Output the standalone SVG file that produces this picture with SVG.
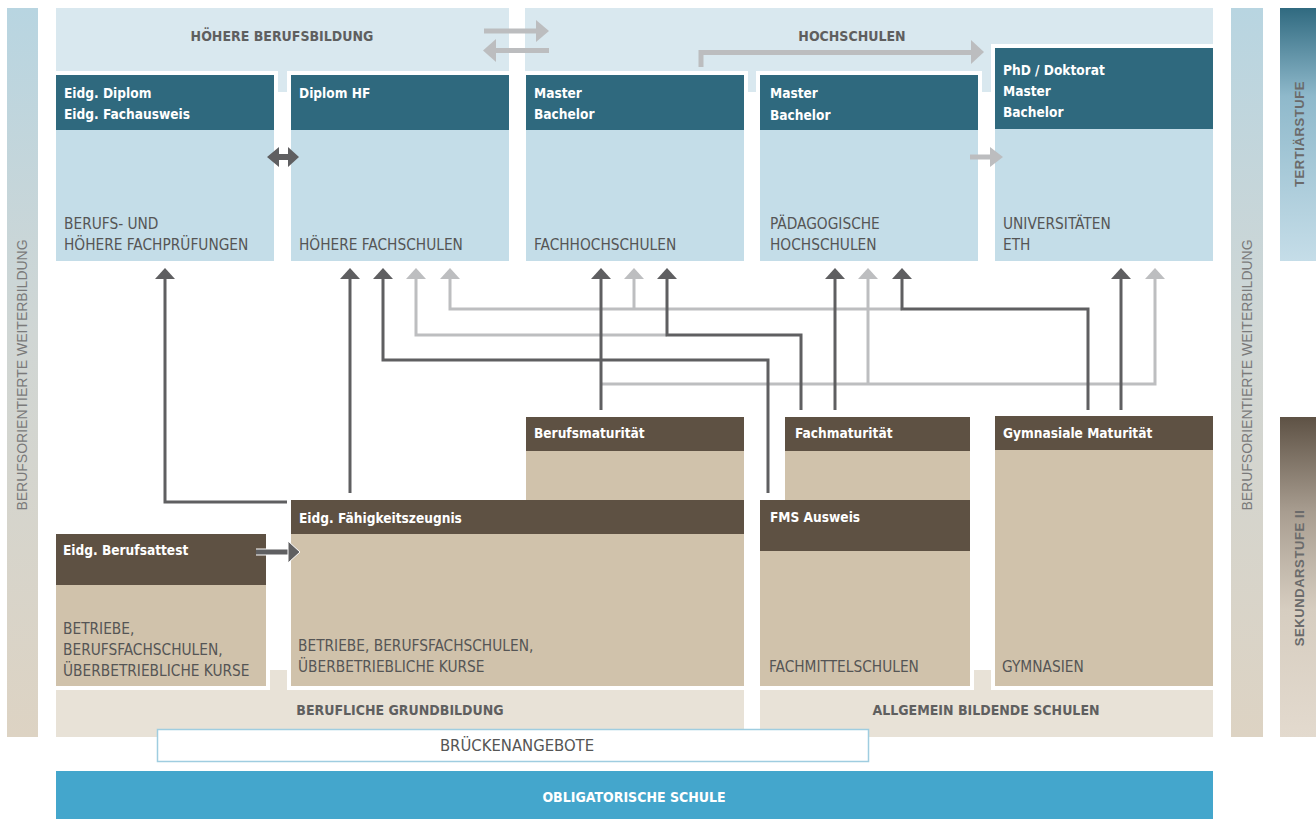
<svg xmlns="http://www.w3.org/2000/svg" width="1316" height="819" viewBox="0 0 1316 819">
<defs>
<style>
.hd{font-family:"Liberation Sans Narrow","DejaVu Sans Condensed","Liberation Sans",sans-serif;font-weight:bold;font-size:13.6px;fill:#ffffff}
.lb{font-family:"Liberation Sans Narrow","DejaVu Sans Condensed","Liberation Sans",sans-serif;font-size:15.3px;fill:#555555}
.tt{font-family:"Liberation Sans Narrow","DejaVu Sans Condensed","Liberation Sans",sans-serif;font-weight:bold;font-size:14px;fill:#5f5f5f;text-anchor:middle}
.side{font-family:"Liberation Sans",sans-serif;font-size:14px;fill:#7a7a7a;text-anchor:middle}
.stage{font-family:"Liberation Sans",sans-serif;font-weight:bold;font-size:13px;fill:#6b6b6b;text-anchor:middle;letter-spacing:0.6px}
.tHead{fill:#2f697e}
.tBody{fill:#c4dde8}
.sHead{fill:#5e5143}
.sBody{fill:#d0c2ab}
.halo{fill:#ffffff}
.cd{fill:none;stroke:#5f5f61;stroke-width:3}
.cl{fill:none;stroke:#bdbec0;stroke-width:3}
</style>
<linearGradient id="gSide" x1="0" y1="0" x2="0" y2="1">
<stop offset="0" stop-color="#b8d5e1"/>
<stop offset="0.45" stop-color="#d0d6d4"/>
<stop offset="1" stop-color="#ddd3c3"/>
</linearGradient>
<linearGradient id="gTert" x1="0" y1="0" x2="0" y2="1">
<stop offset="0" stop-color="#306a80"/>
<stop offset="0.35" stop-color="#8fb9cb"/>
<stop offset="1" stop-color="#c5dde8"/>
</linearGradient>
<linearGradient id="gSek" x1="0" y1="0" x2="0" y2="1">
<stop offset="0" stop-color="#5e5245"/>
<stop offset="0.3" stop-color="#a99e91"/>
<stop offset="0.6" stop-color="#d6cdc0"/>
<stop offset="1" stop-color="#e3dace"/>
</linearGradient>
<marker id="ad" viewBox="0 0 11 20" refX="0" refY="10" markerWidth="11" markerHeight="20" markerUnits="userSpaceOnUse" orient="auto">
<path d="M0,0 L11,10 L0,20 Z" fill="#5f5f61"/>
</marker>
<marker id="al" viewBox="0 0 11 20" refX="0" refY="10" markerWidth="11" markerHeight="20" markerUnits="userSpaceOnUse" orient="auto">
<path d="M0,0 L11,10 L0,20 Z" fill="#bdbec0"/>
</marker>
</defs>

<g id="background">
<rect x="7" y="8" width="31" height="729" fill="url(#gSide)"/>
<text class="side" transform="translate(27,375) rotate(-90)">BERUFSORIENTIERTE WEITERBILDUNG</text>
<rect x="1231" y="8" width="32" height="729" fill="url(#gSide)"/>
<text class="side" transform="translate(1252,375) rotate(-90)">BERUFSORIENTIERTE WEITERBILDUNG</text>
<rect x="1280" y="8" width="36" height="253" fill="url(#gTert)"/>
<text class="stage" transform="translate(1304,134) rotate(-90)">TERTIÄRSTUFE</text>
<rect x="1280" y="417" width="36" height="320" fill="url(#gSek)"/>
<text class="stage" transform="translate(1304,578) rotate(-90)">SEKUNDARSTUFE II</text>
<rect x="56" y="8" width="453" height="84" fill="#d9e8ef"/>
<rect x="525" y="8" width="688" height="84" fill="#d9e8ef"/>
<rect x="56" y="670" width="688" height="67" fill="#e8e2d7"/>
<rect x="760" y="670" width="453" height="67" fill="#e8e2d7"/>
<rect class="halo" x="52" y="71" width="226" height="194"/>
<rect class="halo" x="287" y="71" width="226" height="194"/>
<rect class="halo" x="522" y="71" width="226" height="194"/>
<rect class="halo" x="756" y="71" width="226" height="194"/>
<rect class="halo" x="991" y="44" width="226" height="221"/>
<rect class="halo" x="522" y="413" width="226" height="91"/>
<rect class="halo" x="287" y="496" width="461" height="194"/>
<rect class="halo" x="52" y="530" width="218" height="160"/>
<rect class="halo" x="781" y="413" width="193" height="91"/>
<rect class="halo" x="756" y="496" width="218" height="194"/>
<rect class="halo" x="991" y="412" width="226" height="278"/>
<text class="tt" x="282" y="41">HÖHERE BERUFSBILDUNG</text>
<text class="tt" x="852" y="41">HOCHSCHULEN</text>
<text class="tt" x="400" y="715">BERUFLICHE GRUNDBILDUNG</text>
<text class="tt" x="986" y="715">ALLGEMEIN BILDENDE SCHULEN</text>
</g>

<g id="eidg-diplom">
<rect class="tBody" x="56" y="75" width="218" height="186"/>
<rect class="tHead" x="56" y="75" width="218" height="55"/>
<text class="hd" x="64" y="98">Eidg. Diplom</text>
<text class="hd" x="64" y="119">Eidg. Fachausweis</text>
<text class="lb" x="64" y="229">BERUFS- UND</text>
<text class="lb" x="64" y="250">HÖHERE FACHPRÜFUNGEN</text>
</g>
<g id="diplom-hf">
<rect class="tBody" x="291" y="75" width="218" height="186"/>
<rect class="tHead" x="291" y="75" width="218" height="55"/>
<text class="hd" x="299" y="98">Diplom HF</text>
<text class="lb" x="299" y="250">HÖHERE FACHSCHULEN</text>
</g>
<g id="fachhochschulen">
<rect class="tBody" x="526" y="75" width="218" height="186"/>
<rect class="tHead" x="526" y="75" width="218" height="55"/>
<text class="hd" x="534" y="98">Master</text>
<text class="hd" x="534" y="119">Bachelor</text>
<text class="lb" x="534" y="250">FACHHOCHSCHULEN</text>
</g>
<g id="paedagogische-hochschulen">
<rect class="tBody" x="760" y="75" width="218" height="186"/>
<rect class="tHead" x="760" y="75" width="218" height="55"/>
<text class="hd" x="770" y="98">Master</text>
<text class="hd" x="770" y="120">Bachelor</text>
<text class="lb" x="770" y="229">PÄDAGOGISCHE</text>
<text class="lb" x="770" y="250">HOCHSCHULEN</text>
</g>
<g id="universitaeten">
<rect class="tBody" x="995" y="48" width="218" height="213"/>
<rect class="tHead" x="995" y="48" width="218" height="81"/>
<text class="hd" x="1003" y="75">PhD / Doktorat</text>
<text class="hd" x="1003" y="96">Master</text>
<text class="hd" x="1003" y="117">Bachelor</text>
<text class="lb" x="1003" y="229">UNIVERSITÄTEN</text>
<text class="lb" x="1003" y="250">ETH</text>
</g>

<g id="berufsmaturitaet">
<rect class="sBody" x="526" y="417" width="218" height="83"/>
<rect class="sHead" x="526" y="417" width="218" height="34"/>
<text class="hd" x="534" y="438">Berufsmaturität</text>
</g>
<g id="faehigkeitszeugnis">
<rect class="sBody" x="291" y="500" width="453" height="186"/>
<rect class="sHead" x="291" y="500" width="453" height="34"/>
<text class="hd" x="299" y="523">Eidg. Fähigkeitszeugnis</text>
<text class="lb" x="298" y="651">BETRIEBE, BERUFSFACHSCHULEN,</text>
<text class="lb" x="298" y="672">ÜBERBETRIEBLICHE KURSE</text>
</g>
<g id="berufsattest">
<rect class="sBody" x="56" y="534" width="210" height="152"/>
<rect class="sHead" x="56" y="534" width="210" height="51"/>
<text class="hd" x="63" y="555">Eidg. Berufsattest</text>
<text class="lb" x="63" y="634">BETRIEBE,</text>
<text class="lb" x="63" y="655">BERUFSFACHSCHULEN,</text>
<text class="lb" x="63" y="676">ÜBERBETRIEBLICHE KURSE</text>
</g>
<g id="fachmaturitaet">
<rect class="sBody" x="785" y="417" width="185" height="83"/>
<rect class="sHead" x="785" y="417" width="185" height="34"/>
<text class="hd" x="795" y="438">Fachmaturität</text>
</g>
<g id="fms-ausweis">
<rect class="sBody" x="760" y="500" width="210" height="186"/>
<rect class="sHead" x="760" y="500" width="210" height="51"/>
<text class="hd" x="770" y="522">FMS Ausweis</text>
<text class="lb" x="769" y="672">FACHMITTELSCHULEN</text>
</g>
<g id="gymnasien">
<rect class="sBody" x="995" y="416" width="218" height="270"/>
<rect class="sHead" x="995" y="416" width="218" height="34"/>
<text class="hd" x="1003" y="438">Gymnasiale Maturität</text>
<text class="lb" x="1002" y="672">GYMNASIEN</text>
</g>

<g id="brueckenangebote">
<rect x="157.5" y="729.5" width="711" height="32" fill="#ffffff" stroke="#9fcde0" stroke-width="1.5"/>
<text class="lb" x="517" y="751" text-anchor="middle" style="font-size:16.5px">BRÜCKENANGEBOTE</text>
</g>
<g id="obligatorische-schule">
<rect x="56" y="771" width="1157" height="48" fill="#44a6cc"/>
<text class="tt" x="634" y="802" style="fill:#ffffff">OBLIGATORISCHE SCHULE</text>
</g>

<g id="connectors">
<path class="cl" d="M601,384 H1155 V279" marker-end="url(#al)"/>
<path class="cl" d="M868,384 V279" marker-end="url(#al)"/>
<path class="cl" d="M667,335 H416 V279" marker-end="url(#al)"/>
<path class="cl" d="M902,309 H450 V279" marker-end="url(#al)"/>
<path class="cl" d="M634,309 V279" marker-end="url(#al)"/>
<path class="cd" d="M287,502 H165 V279" marker-end="url(#ad)"/>
<path class="cd" d="M350,493 V279" marker-end="url(#ad)"/>
<path class="cd" d="M768,493 V360 H383 V279" marker-end="url(#ad)"/>
<path class="cd" d="M601,410 V279" marker-end="url(#ad)"/>
<path class="cd" d="M801,410 V335 H667 V279" marker-end="url(#ad)"/>
<path class="cd" d="M835,410 V279" marker-end="url(#ad)"/>
<path class="cd" d="M1088,410 V309 H902 V279" marker-end="url(#ad)"/>
<path class="cd" d="M1121,410 V279" marker-end="url(#ad)"/>
<rect x="484" y="28.5" width="53" height="5" fill="#bcbdbf"/>
<polygon points="536,20 549,31 536,42" fill="#bcbdbf"/>
<rect x="496" y="48" width="53" height="5" fill="#bcbdbf"/>
<polygon points="496,39 483,50.5 496,62" fill="#bcbdbf"/>
<path d="M701,67 V52.5 H972" fill="none" stroke="#bcbdbf" stroke-width="5"/>
<polygon points="971,40 984,52 971,64" fill="#bcbdbf"/>
<rect x="970" y="154.5" width="21" height="5" fill="#bcbdbf"/>
<polygon points="990,147 1003,157 990,167" fill="#bcbdbf"/>
<polygon points="267,157 279,147 279,154 288,154 288,147 299,157 288,167 288,160 279,160 279,167" fill="#5f5f61"/>
<path d="M256,552 H289" stroke="#ffffff" stroke-width="7"/>
<path d="M256,552 H289" stroke="#5f5f61" stroke-width="5"/>
<polygon points="288,541 300,552 288,563" fill="#5f5f61" stroke="#ffffff" stroke-width="1"/>
</g>
</svg>
